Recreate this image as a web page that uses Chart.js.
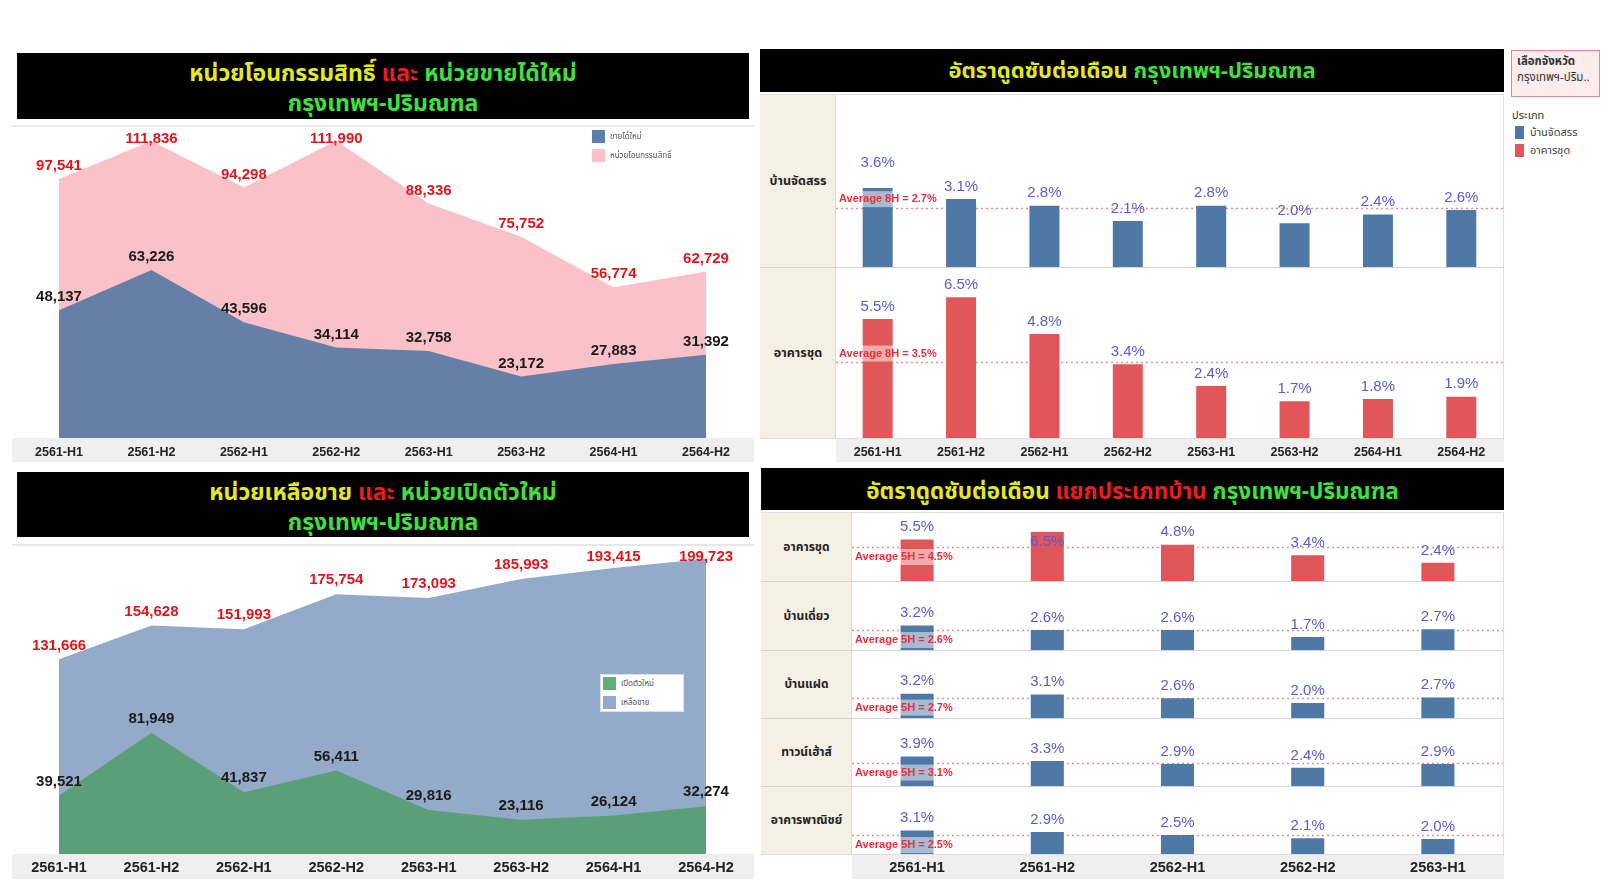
<!DOCTYPE html>
<html><head><meta charset="utf-8">
<script src="https://cdn.jsdelivr.net/npm/chart.js@4.4.1/dist/chart.umd.min.js"></script>
<style>
html,body{margin:0;padding:0;background:#fff;}
body{width:1620px;height:887px;position:relative;overflow:hidden;font-family:"Noto Sans Thai","Leelawadee UI",Tahoma,"Noto Sans","DejaVu Sans",sans-serif;}
.a{position:absolute;box-sizing:border-box;}
.title{background:#000;text-align:center;font-weight:bold;white-space:nowrap;}
.y{color:#e3e826}.r{color:#ea1e1e}.g{color:#3fe03b}
.band{background:#efefef;}
.beige{background:#f6f0e4;border-right:1px solid #e2dccf;}
.rowlbl{display:flex;align-items:center;justify-content:center;font-weight:bold;color:#222;text-align:center;}
.hline{background:#d4d4d4;height:1px;}
.leg{font-size:8px;color:#555;display:flex;align-items:center;}
.sq{display:inline-block;}
canvas{position:absolute;}
</style>
</head><body>
<script>
// ---------------- DATA ----------------
const CAT8 = ['2561-H1','2561-H2','2562-H1','2562-H2','2563-H1','2563-H2','2564-H1','2564-H2'];
const transferUnits = [97541,111836,94298,111990,88336,75752,56774,62729];   // หน่วยโอนกรรมสิทธิ์
const newSaleUnits  = [48137,63226,43596,34114,32758,23172,27883,31392];     // ขายได้ใหม่
const unsoldUnits   = [131666,154628,151993,175754,173093,185993,193415,199723]; // เหลือขาย
const launchUnits   = [39521,81949,41837,56411,29816,23116,26124,32274];     // เปิดตัวใหม่
const absHousing8 = [3.6,3.1,2.8,2.1,2.8,2.0,2.4,2.6];   // บ้านจัดสรร
const absCondo8   = [5.5,6.5,4.8,3.4,2.4,1.7,1.8,1.9];   // อาคารชุด
const avg8H = [2.7,3.5];
const CAT5 = ['2561-H1','2561-H2','2562-H1','2562-H2','2563-H1'];
const typeNames = ['อาคารชุด','บ้านเดี่ยว','บ้านแฝด','ทาวน์เฮ้าส์','อาคารพาณิชย์'];
const absCondo5      = [5.5,6.5,4.8,3.4,2.4];
const absDetached5   = [3.2,2.6,2.6,1.7,2.7];
const absTwin5       = [3.2,3.1,2.6,2.0,2.7];
const absTownhouse5  = [3.9,3.3,2.9,2.4,2.9];
const absCommercial5 = [3.1,2.9,2.5,2.1,2.0];
const avg5H = [4.5,2.6,2.7,3.1,2.5];

// ---------------- STYLE ----------------
const NUMFONT = '"Liberation Sans", Arial, sans-serif';
const C = {pink:'#fbc1c8', slate:'#6580a6', lblue:'#93abc8', green:'#5b9f79',
           bar:'#4e79a7', red:'#e15759', val:'#5b5bd6', avg:'#e8303a', avgLine:'#ec8f94'};

function el(cls, css, html){
  const d=document.createElement('div'); d.className='a '+cls;
  Object.assign(d.style, css); if(html!=null) d.innerHTML=html; document.body.appendChild(d); return d;
}
function px(o){const r={};for(const k in o){r[k]=typeof o[k]==='number'?o[k]+'px':o[k];}return r;}
function canvasAt(l,t,w,h){
  const c=document.createElement('canvas'); c.width=w; c.height=h;
  Object.assign(c.style,{left:l+'px',top:t+'px',width:w+'px',height:h+'px'});
  document.body.appendChild(c); return c;
}

// ---------------- PLUGINS ----------------
const ptLabels = {
  id:'ptLabels',
  afterDatasetsDraw(chart){
    const o=chart.options.plugins.ptLabels; if(!o||!o.colors) return;
    const ctx=chart.ctx, ca=chart.chartArea;
    ctx.save(); ctx.font='bold '+o.size+'px '+NUMFONT; ctx.textAlign='center'; ctx.textBaseline='middle';
    chart.data.datasets.forEach((ds,di)=>{
      const meta=chart.getDatasetMeta(di);
      ctx.fillStyle=o.colors[di];
      meta.data.forEach((pt,i)=>{
        const y=Math.max(pt.y-o.offset, ca.top+o.minTop);
        ctx.fillText(ds.data[i].toLocaleString('en-US'), pt.x, y);
      });
    });
    ctx.restore();
  }
};
const avgPlugin = {
  id:'avgLine',
  beforeDatasetsDraw(chart){
    const o=chart.options.plugins.avgLine; if(!o||o.value==null) return;
    const ctx=chart.ctx, ca=chart.chartArea;
    const y=Math.round(chart.scales.y.getPixelForValue(o.value))+0.5;
    ctx.save(); ctx.strokeStyle=C.avgLine; ctx.lineWidth=1.3; ctx.setLineDash([2,3]);
    ctx.beginPath(); ctx.moveTo(ca.left,y); ctx.lineTo(ca.right,y); ctx.stroke(); ctx.restore();
  },
  afterDatasetsDraw(chart){
    const o=chart.options.plugins.avgLine; if(!o||o.value==null) return;
    const ctx=chart.ctx, ca=chart.chartArea;
    const y=chart.scales.y.getPixelForValue(o.value);
    ctx.save(); ctx.font='bold 11px '+NUMFONT;
    const w=ctx.measureText(o.text).width;
    const cy = o.pos==='above' ? y-o.gap : y+o.gap;
    const x0=ca.left+o.dx;
    ctx.fillStyle='rgba(255,255,255,0.5)'; ctx.fillRect(x0-1,cy-8,w+2,16);
    ctx.fillStyle=C.avg; ctx.textAlign='left'; ctx.textBaseline='middle';
    ctx.fillText(o.text,x0,cy);
    chart.$avgBox={l:x0-1,r:x0+w+1,t:cy-7,b:cy+7,cy:cy};
    // value labels (placed avoiding the average label)
    const v=chart.options.plugins.barVals;
    if(v){
      ctx.font='15px '+NUMFONT; ctx.fillStyle=C.val; ctx.textAlign='center';
      const meta=chart.getDatasetMeta(0), data=chart.data.datasets[0].data, b=chart.$avgBox;
      meta.data.forEach((bar,i)=>{
        const txt=data[i].toFixed(1)+'%';
        const tw=ctx.measureText(txt).width;
        let ty=bar.y-v.offset;
        if(ty-8<ca.top) ty=bar.y+10;
        const l=bar.x-tw/2, r=bar.x+tw/2;
        if(r>b.l && l<b.r && ty+8+v.margin>b.t && ty-8-v.margin<b.b) ty=b.cy-36;
        ctx.fillText(txt,bar.x,ty);
      });
    }
    ctx.restore();
  }
};
Chart.register(ptLabels, avgPlugin);

function xAxis(size,pad,h){
  return {display:true, grid:{display:false,drawTicks:false}, border:{display:false},
    ticks:{font:{family:NUMFONT,size:size,weight:'bold'},color:'#222',padding:pad,maxRotation:0,autoSkip:false},
    afterFit(s){s.height=h;}};
}

function areaChart(c, labels, series, yMax, padL, padR, padT, lbl, axis){
  new Chart(c,{type:'line',
    data:{labels:labels, datasets:series.map(s=>({data:s.data, backgroundColor:s.color, borderWidth:0, pointRadius:0, fill:'origin', tension:0}))},
    options:{responsive:false, animation:false, events:[],
      layout:{padding:{left:padL,right:padR,top:padT,bottom:0}},
      plugins:{legend:{display:false}, tooltip:{enabled:false}, ptLabels:lbl},
      scales:{x:xAxis(axis.size,axis.pad,axis.h), y:{display:false,min:0,max:yMax}}}});
}

function barRow(c, labels, data, color, yMax, barPct, avg, avgText, avgPos, avgGap, axis){
  new Chart(c,{type:'bar',
    data:{labels:labels, datasets:[{data:data, backgroundColor:color, borderWidth:0, barPercentage:barPct, categoryPercentage:1}]},
    options:{responsive:false, animation:false, events:[],
      layout:{padding:0},
      plugins:{legend:{display:false}, tooltip:{enabled:false},
        avgLine:{value:avg, text:avgText, pos:avgPos, gap:avgGap, dx:3},
        barVals:{offset:12.5, margin:9}},
      scales:{x: axis ? xAxis(axis.size,axis.pad,axis.h) : {display:false}, y:{display:false,min:0,max:yMax}}}});
}

// ================= PANEL 1 =================
el('title', px({left:17,top:53,width:732,height:66,fontSize:23,lineHeight:'30px',paddingTop:6}),
  '<span class="y">หน่วยโอนกรรมสิทธิ์</span> <span class="r">และ</span> <span class="g">หน่วยขายได้ใหม่</span><br><span class="g">กรุงเทพฯ-ปริมณฑล</span>');
el('', px({left:12,top:125,width:742,height:2,background:'#e8e8e8'}));
el('band', px({left:12,top:438,width:742,height:24}));
areaChart(canvasAt(0,119,760,343), CAT8,
  [{data:newSaleUnits,color:C.slate},{data:transferUnits,color:C.pink}],
  116000, 59, 54, 11, {colors:['#1a1a1a','#e0161b'], size:15, offset:13, minTop:8.5},
  {size:12.5,pad:7,h:24});
el('leg', px({left:592,top:130,height:13}), '<span class="sq" style="width:13px;height:13px;background:#5b80ab;margin-right:5px"></span>ขายได้ใหม่');
el('leg', px({left:592,top:149,height:13}), '<span class="sq" style="width:13px;height:13px;background:#fbc1c8;margin-right:5px"></span>หน่วยโอนกรรมสิทธิ์');

// ================= PANEL 3 =================
el('title', px({left:17,top:472,width:732,height:65,fontSize:23,lineHeight:'30px',paddingTop:6}),
  '<span class="y">หน่วยเหลือขาย</span> <span class="r">และ</span> <span class="g">หน่วยเปิดตัวใหม่</span><br><span class="g">กรุงเทพฯ-ปริมณฑล</span>');
el('', px({left:12,top:544,width:742,height:2,background:'#e8e8e8'}));
el('band', px({left:12,top:854,width:742,height:25}));
areaChart(canvasAt(0,546,760,334), CAT8,
  [{data:launchUnits,color:C.green},{data:unsoldUnits,color:C.lblue}],
  207000, 59, 54, 2, {colors:['#1a1a1a','#e0161b'], size:15, offset:14, minTop:8.7},
  {size:14.5,pad:5,h:26});
el('', px({left:600,top:674,width:84,height:38,background:'#fff',border:'1px solid #e0e0e0'}));
el('leg', px({left:603,top:677,height:13}), '<span class="sq" style="width:13px;height:13px;background:#5fae78;margin-right:5px"></span>เปิดตัวใหม่');
el('leg', px({left:603,top:696,height:13}), '<span class="sq" style="width:13px;height:13px;background:#93abc8;margin-right:5px"></span>เหลือขาย');

// ================= PANEL 2 =================
el('title', px({left:760,top:49,width:744,height:43,fontSize:22,lineHeight:'40px',paddingTop:3}),
  '<span class="y">อัตราดูดซับต่อเดือน</span> <span class="g">กรุงเทพฯ-ปริมณฑล</span>');
el('', px({left:760,top:94,width:744,height:345,border:'1px solid #dedede'}));
el('beige', px({left:760,top:95,width:76,height:343}));
el('rowlbl', px({left:760,top:95,width:76,height:172,fontSize:12.5}), 'บ้านจัดสรร');
el('rowlbl', px({left:760,top:268,width:76,height:170,fontSize:12.5}), 'อาคารชุด');
el('hline', px({left:760,top:267,width:744}));
el('band', px({left:836,top:439,width:668,height:23}));
barRow(canvasAt(836,95,667,172), CAT8, absHousing8, C.bar, 7.85, 0.36, avg8H[0], 'Average 8H = '+avg8H[0]+'%', 'above', 8.7, null);
barRow(canvasAt(836,268,667,194), CAT8, absCondo8, C.red, 7.85, 0.36, avg8H[1], 'Average 8H = '+avg8H[1]+'%', 'above', 8.7, {size:12.5,pad:7,h:24});
// filter + legend
el('', px({left:1511,top:50,width:89,height:47,background:'#fcecec',border:'1.5px solid #e28c8c',padding:'3px 0 0 5px',fontSize:11.5,lineHeight:'16px',color:'#333'}),
  '<b>เลือกจังหวัด</b><br>กรุงเทพฯ-ปริม..');
el('', px({left:1512,top:108,fontSize:11,color:'#333',lineHeight:'16px'}), 'ประเภท');
el('leg', px({left:1515,top:126,height:13,fontSize:11,color:'#444'}), '<span class="sq" style="width:9px;height:13px;background:#4e79a7;margin-right:6px"></span>บ้านจัดสรร');
el('leg', px({left:1515,top:144,height:13,fontSize:11,color:'#444'}), '<span class="sq" style="width:9px;height:13px;background:#e15759;margin-right:6px"></span>อาคารชุด');

// ================= PANEL 4 =================
el('title', px({left:761,top:468,width:743,height:42,fontSize:22.5,lineHeight:'40px',paddingTop:4}),
  '<span class="y">อัตราดูดซับต่อเดือน</span> <span class="r">แยกประเภทบ้าน</span> <span class="g">กรุงเทพฯ-ปริมณฑล</span>');
el('', px({left:761,top:512,width:743,height:343,border:'1px solid #dedede'}));
el('beige', px({left:761,top:513,width:91,height:341}));
const rowTops=[513,581,650,718,786,854];
const rows5=[absCondo5,absDetached5,absTwin5,absTownhouse5,absCommercial5];
el('band', px({left:852,top:855,width:652,height:24}));
rows5.forEach((d,i)=>{
  const t=rowTops[i], h=rowTops[i+1]-t;
  el('rowlbl', px({left:761,top:t,width:91,height:h,fontSize:12}), typeNames[i]);
  if(i>0) el('hline', px({left:761,top:t,width:743}));
  const last=i===rows5.length-1;
  barRow(canvasAt(852,t,651,h+(last?24:0)), CAT5, d, i===0?C.red:C.bar, 9, 0.254,
    avg5H[i], 'Average 5H = '+avg5H[i]+'%', 'below', 10, last?{size:14.5,pad:5,h:24}:null);
});
</script>
</body></html>
